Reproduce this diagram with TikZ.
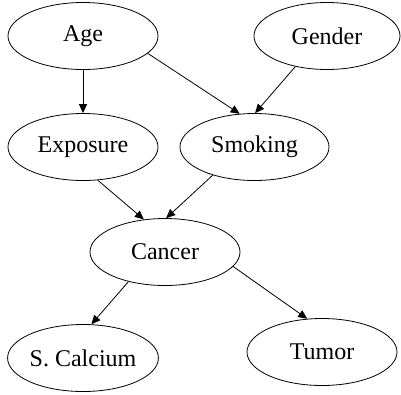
\documentclass[tikz,border=0pt]{standalone}
\usepackage{fontspec}
\setmainfont{Liberation Serif}
\usetikzlibrary{shapes.geometric,arrows.meta}
\begin{document}
\begin{tikzpicture}[x=1pt,y=-1pt,
  var/.style={draw,ellipse,line width=0.8pt,minimum width=150pt,minimum height=67pt,inner sep=0pt,font=\fontsize{24}{28}\selectfont},
  edge/.style={draw,line width=0.8pt,-{Triangle[length=9pt,width=8pt]}}]
\useasboundingbox (0,0) rectangle (401,394);
\node[var] (age) at (83,36) {Age};
\node[var,minimum width=146pt] (gender) at (327,36) {Gender};
\node[var] (exposure) at (83,147) {Exposure};
\node[var,minimum width=149pt] (smoking) at (254.5,147) {Smoking};
\node[var] (cancer) at (165,252) {Cancer};
\node[var] (calcium) at (83,358) {S. Calcium};
\node[var] (tumor) at (322,352) {Tumor};
\path[edge] (age.-90) -- (exposure.90);
\path[edge] (age.-15) -- (smoking.114.5);
\path[edge] (gender.-136) -- (smoking.89);
\path[edge] (exposure.-66) -- (cancer.123.7);
\path[edge] (smoking.214.5) -- (cancer.88);
\path[edge] (cancer.219) -- (calcium.76);
\path[edge] (cancer.-12.4) -- (tumor.114);
\end{tikzpicture}
\end{document}
